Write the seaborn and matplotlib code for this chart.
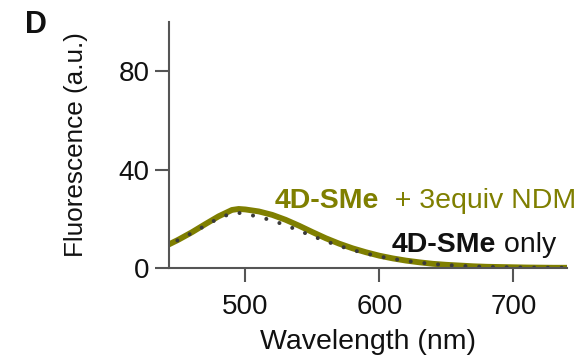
import numpy as np
import pandas as pd
import matplotlib
matplotlib.use("Agg")
import matplotlib.pyplot as plt
import seaborn as sns

wavelength = [440, 450, 460, 470, 480, 490, 495, 500, 510, 520, 530, 540, 550, 560, 570,
              580, 590, 600, 610, 620, 630, 640, 650, 660, 670, 680, 690, 700, 710, 720, 730, 740]
ndm = [8.8, 11.5, 14.5, 17.8, 21.0, 23.6, 24.0, 23.8, 23.0, 21.6, 19.6, 17.2, 14.6, 12.1, 9.9,
       8.0, 6.4, 5.0, 3.9, 3.0, 2.3, 1.7, 1.3, 1.0, 0.7, 0.5, 0.4, 0.3, 0.2, 0.15, 0.1, 0.1]
only = [8.8, 11.4, 14.2, 17.2, 20.2, 22.3, 22.4, 22.0, 20.8, 19.3, 17.4, 15.2, 13.0, 10.9, 9.0,
        7.3, 5.9, 4.7, 3.7, 2.9, 2.2, 1.6, 1.2, 0.9, 0.6, 0.45, 0.35, 0.25, 0.18, 0.12, 0.1, 0.1]
xticks = [500, 600, 700]
yticks = [0, 40, 80]

olive = "#7f7f00"
dotc = "#3a3a3a"

sns.set_style("ticks")
plt.rcParams["font.family"] = ["Liberation Sans", "DejaVu Sans"]

fig = plt.figure(figsize=(5.8, 3.58), dpi=100)
ax = fig.add_axes([169/580, 1-268/358, (567-169)/580, (268-22)/358])

df = pd.DataFrame({"Wavelength": wavelength, "ndm": ndm, "only": only})
sns.lineplot(data=df, x="Wavelength", y="ndm", ax=ax, color=olive, lw=4.2,
             solid_capstyle="butt")
sns.lineplot(data=df, x="Wavelength", y="only", ax=ax, color=dotc, lw=2.9,
             dashes=False)
ax.lines[-1].set_linestyle((0, (0.01, 3.4)))
ax.lines[-1].set_dash_capstyle("round")

ax.set_xlim(443, 740)
ax.set_ylim(0, 100)
ax.set_xticks(xticks)
ax.set_yticks(yticks)
ax.set_xlabel("Wavelength (nm)", fontsize=20.5, labelpad=6)
ax.set_ylabel("Fluorescence (a.u.)", fontsize=18.8, labelpad=22)
ax.tick_params(axis="both", labelsize=20, length=10, width=1.5, color="#555555",
               labelcolor="#111111")
ax.tick_params(axis="y", pad=4)
ax.tick_params(axis="x", pad=9)
for s in ["top", "right"]:
    ax.spines[s].set_visible(False)
for s in ["left", "bottom"]:
    ax.spines[s].set_color("#555555")
    ax.spines[s].set_linewidth(1.5)
ax.xaxis.label.set_color("#111111")
ax.yaxis.label.set_color("#111111")

t1 = fig.text(275/580, 1-208/358, "4D-SMe", fontsize=20.5, fontweight="bold", color=olive,
              ha="left", va="baseline")
ax.annotate("  + 3equiv NDM", xy=(1, 0), xycoords=t1, fontsize=20.5, color=olive,
            ha="left", va="bottom")
t2 = fig.text(392/580, 1-252/358, "4D-SMe", fontsize=20.5, fontweight="bold", color="#111111",
              ha="left", va="baseline")
ax.annotate(" only", xy=(1, 0), xycoords=t2, fontsize=20.5, color="#111111",
            ha="left", va="bottom")

fig.text(25/580, 1-33/358, "D", fontsize=22, fontweight="bold", color="#111111",
         ha="left", va="baseline")

fig.savefig("out.png", dpi=100)
